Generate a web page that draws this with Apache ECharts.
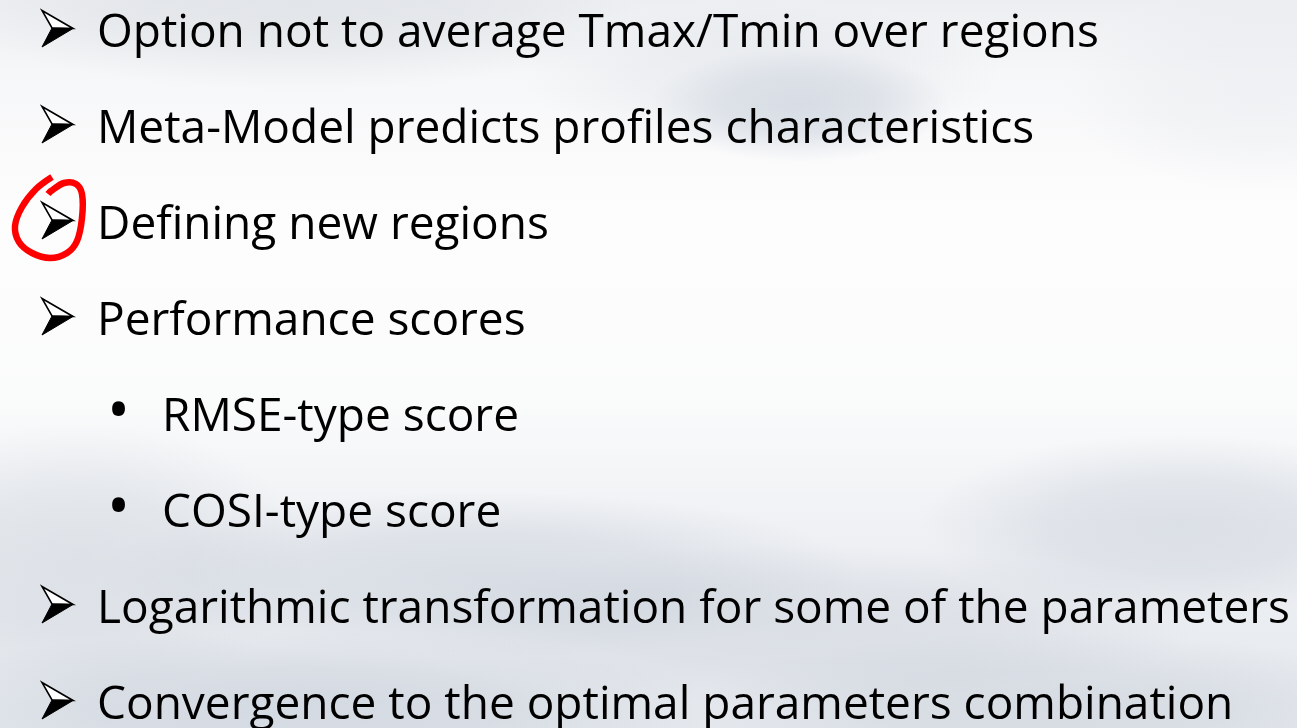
<!DOCTYPE html>
<html><head><meta charset="utf-8">
<script src="https://cdn.jsdelivr.net/npm/echarts@6.0.0/dist/echarts.min.js"></script>
<style>html,body{margin:0;padding:0;width:1297px;height:728px;overflow:hidden;background:#fff}#c{width:1297px;height:728px}</style>
</head><body><div id="c"></div>
<script>
// Slide content
const lines = [
  'Option not to average Tmax/Tmin over regions',
  'Meta-Model predicts profiles characteristics',
  'Defining new regions',
  'Performance scores',
  'RMSE-type score',
  'COSI-type score',
  'Logarithmic transformation for some of the parameters',
  'Convergence to the optimal parameters combination'
];
const levels = [1, 1, 1, 1, 2, 2, 1, 1];
const subBullet = '•';
const circledLine = 2; // index of the line whose bullet is circled in red

const FONT = '"Open Sans", "Noto Sans", sans-serif';
const W = 1297, H = 728;
const firstBaseline = 47, lineStep = 96;
const textX = { 1: 97, 2: 162 };
const longestWidth = 1193;

const cv = document.createElement('canvas');
const ctx = cv.getContext('2d');
function measure(txt, font) {
  ctx.font = font; ctx.textBaseline = 'middle'; ctx.textAlign = 'left';
  return ctx.measureText(txt);
}
const longest = lines.reduce((a, b) => (b.length > a.length ? b : a));
const w100 = measure(longest, '100px ' + FONT).width;
const S = 100 * longestWidth / w100;
const mainFont = S.toFixed(2) + 'px ' + FONT;
const baseOff = measure('H', mainFont).actualBoundingBoxDescent;

const dM100 = measure(subBullet, '100px ' + FONT);
const dW100 = dM100.actualBoundingBoxLeft + dM100.actualBoundingBoxRight;
const dS = 100 * 13.5 / dW100;
const dFont = dS.toFixed(2) + 'px ' + FONT;
const dM = measure(subBullet, dFont);

const elements = [];
// background
elements.push({
  type: 'rect', shape: { x: 0, y: 0, width: W, height: H }, silent: true,
  style: { fill: new echarts.graphic.LinearGradient(0, 0, 0, 1, [
    { offset: 0, color: '#eceef1' }, { offset: 0.1, color: '#f6f7f8' },
    { offset: 0.3, color: '#fdfdfd' }, { offset: 0.55, color: '#fafbfb' },
    { offset: 0.72, color: '#eff1f4' }, { offset: 1, color: '#e4e8ed' }]) }
});
// [cx, cy, r, scaleY, rgb, alpha]
const blobs = [
  [800, 105, 150, 0.38, '180,190,206', 0.45],
  [760, 75, 240, 0.3, '212,218,226', 0.35],
  [300, 15, 340, 0.22, '205,210,216', 0.35],
  [80, 560, 230, 0.6, '192,200,210', 0.35],
  [480, 575, 380, 0.22, '180,190,204', 0.35],
  [800, 625, 400, 0.2, '188,195,207', 0.32],
  [1180, 525, 260, 0.35, '182,191,204', 0.35],
  [300, 705, 420, 0.18, '176,186,200', 0.32],
  [1050, 705, 360, 0.2, '184,192,204', 0.32],
  [1260, 90, 200, 0.5, '220,224,230', 0.3]
];
blobs.forEach(b => elements.push({
  type: 'circle', silent: true, x: b[0], y: b[1], scaleY: b[3],
  shape: { cx: 0, cy: 0, r: b[2] },
  style: { fill: new echarts.graphic.RadialGradient(0.5, 0.5, 0.5, [
    { offset: 0, color: 'rgba(' + b[4] + ',' + b[5] + ')' },
    { offset: 0.5, color: 'rgba(' + b[4] + ',' + (b[5] * 0.75).toFixed(3) + ')' },
    { offset: 1, color: 'rgba(' + b[4] + ',0)' }]) }
}));

lines.forEach((t, i) => {
  const lvl = levels[i];
  const baseline = firstBaseline + lineStep * i;
  elements.push({
    type: 'text', x: textX[lvl], y: baseline - baseOff, silent: true,
    style: { text: t, font: mainFont, fill: '#000', align: 'left', verticalAlign: 'middle' }
  });
  if (lvl === 1) {
    // 3D arrowhead bullet (Wingdings-style)
    elements.push({
      type: 'polygon', silent: true, x: 0, y: baseline,
      shape: { points: [[42, -36.5], [73, -18.5], [52, -19]] },
      style: { fill: '#fff', stroke: '#000', lineWidth: 1.6, lineJoin: 'miter' }
    });
    elements.push({
      type: 'polygon', silent: true, x: 0, y: baseline,
      shape: { points: [[52, -19], [73, -18.5], [42, 0]] },
      style: { fill: '#000', stroke: '#000', lineWidth: 1, lineJoin: 'miter' }
    });
  } else {
    const cy = baseline - 23;
    elements.push({
      type: 'text', silent: true,
      x: 112 + dM.actualBoundingBoxLeft,
      y: cy - (dM.actualBoundingBoxDescent - dM.actualBoundingBoxAscent) / 2,
      style: { text: subBullet, font: dFont, fill: '#000', align: 'left', verticalAlign: 'middle' }
    });
  }
});

// red hand-drawn loop around the circled bullet
const loopDy = lineStep * circledLine - 192;
elements.push({
  type: 'polyline', silent: true,
  shape: { smooth: 0.35, points: [[52,177],[36,189],[22,207],[15,226],[19,242],[32,253],[50,258],[67,253],[77,241],[82,218],[82,194],[76,184],[64,183],[51,191],[48,194]].map(p => [p[0], p[1] + loopDy]) },
  style: { stroke: '#ff0000', lineWidth: 6.5, fill: null, lineCap: 'butt', lineJoin: 'round' }
});

const chart = echarts.init(document.getElementById('c'), null, { renderer: 'canvas' });
chart.setOption({ animation: false, graphic: { elements } });
</script>
</body></html>
